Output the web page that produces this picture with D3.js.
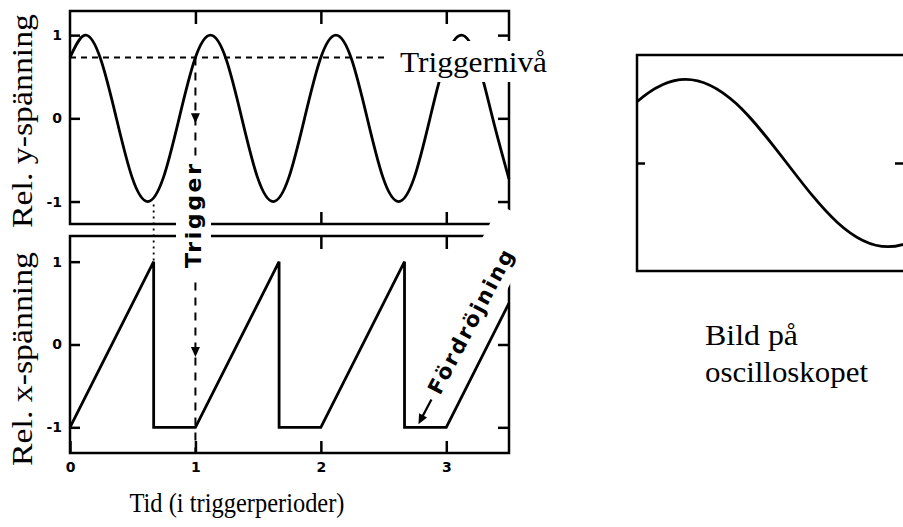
<!DOCTYPE html>
<html>
<head>
<meta charset="utf-8">
<script src="https://cdn.jsdelivr.net/npm/d3@7"></script>
<style>
  body { margin: 0; background: #fff; }
  svg { display: block; }
</style>
</head>
<body>
<svg id="chart" width="903" height="527"></svg>
<script>

// tick values
const timeTicks = [0, 1, 2, 3];
const voltTicks = [-1, 0, 1];

// y-signal (sine)
const ySignalTime  = [0, 0.12, 0.245, 0.37, 0.495, 0.62, 0.745, 0.87, 0.995,
                      1.12, 1.245, 1.37, 1.495, 1.62, 1.745, 1.87, 1.995,
                      2.12, 2.245, 2.37, 2.495, 2.62, 2.745, 2.87, 2.995,
                      3.12, 3.245, 3.37, 3.5];
const ySignalValue = [0.73, 1, 0.71, 0, -0.71, -1, -0.71, 0, 0.71,
                      1, 0.71, 0, -0.71, -1, -0.71, 0, 0.71,
                      1, 0.71, 0, -0.71, -1, -0.71, 0, 0.71,
                      1, 0.71, 0, -0.73];

// x-sweep (sawtooth with hold-off)
const xSweepTime  = [0, 0.667, 0.667, 1, 1.667, 1.667, 2, 2.667, 2.667, 3, 3.5];
const xSweepValue = [-1, 1, -1, -1, 1, -1, -1, 1, -1, -1, 0.5];

const triggerLevel = 0.73;
const triggerTime = 1;
const sweepEnd = 0.667;          // first sweep reaches +1 here
const screenWindow = [1, 1.667]; // part of the signal shown on the screen

const yTitleTop = "Rel. y-spänning";
const yTitleBottom = "Rel. x-spänning";
const xTitle = "Tid (i triggerperioder)";
const levelLabel = "Triggernivå";
const triggerLabel = "Trigger";
const delayLabel = "Fördröjning";
const screenLabel = ["Bild på", "oscilloskopet"];


const ySignal = ySignalTime.map(function(t, i){ return {t: t, v: ySignalValue[i]}; });
const xSweep = xSweepTime.map(function(t, i){ return {t: t, v: xSweepValue[i]}; });

const svg = d3.select('#chart');
const serif = "'Liberation Serif', 'Times New Roman', serif";
const sans = "'DejaVu Sans', sans-serif";

let xTime = d3.scaleLinear().domain([0, 3.5]).range([70, 509]);
let yTop = d3.scaleLinear().domain([-1.27, 1.29]).range([224, 11]);
let yBot = d3.scaleLinear().domain([-1.31, 1.31]).range([453, 236]);
let xScreen = d3.scaleLinear().domain(screenWindow).range([637, 907]);
let yScreen = d3.scaleLinear().domain([-1.29, 1.29]).range([271, 55]);

const fmt = function(d){ return d < 0 ? '-' + Math.abs(d) : String(d); };

function frame(xs, ys){
    svg.append('rect')
        .attr('x', xs.range()[0]).attr('y', ys.range()[1])
        .attr('width', xs.range()[1] - xs.range()[0])
        .attr('height', ys.range()[0] - ys.range()[1])
        .attr('fill', 'none').attr('stroke', '#000').attr('stroke-width', 2.5);
}

function styleAxis(g){
    g.select('.domain').remove();
    g.selectAll('line').attr('stroke', '#000').attr('stroke-width', 2.5);
    g.selectAll('text')
        .attr('fill', '#000')
        .style('font-family', sans)
        .style('font-weight', 'bold')
        .style('font-size', '14px');
}

function panel(ys, withTimeLabels){
    frame(xTime, ys);
    let x0 = xTime.range()[0], x1 = xTime.range()[1];
    let top = ys.range()[1], bottom = ys.range()[0];

    svg.append('g').attr('transform', `translate(${x0},0)`)
        .call(d3.axisLeft(ys).tickValues(voltTicks).tickSize(-10).tickPadding(8).tickFormat(fmt))
        .call(styleAxis);
    svg.append('g').attr('transform', `translate(${x1},0)`)
        .call(d3.axisRight(ys).tickValues(voltTicks).tickSize(-11).tickFormat(''))
        .call(styleAxis);
    svg.append('g').attr('transform', `translate(0,${top})`)
        .call(d3.axisTop(xTime).tickValues([1, 2, 3]).tickSize(-13).tickFormat(''))
        .call(styleAxis);
    svg.append('g').attr('transform', `translate(0,${bottom})`)
        .call(d3.axisBottom(xTime).tickValues(withTimeLabels ? timeTicks : [1, 2, 3])
              .tickSize(-12).tickPadding(9).tickFormat(withTimeLabels ? fmt : ''))
        .call(styleAxis);
}

panel(yTop, false);
panel(yBot, true);

// signals
let lineTop = d3.line().x(function(d){ return xTime(d.t); }).y(function(d){ return yTop(d.v); }).curve(d3.curveNatural);
let lineBot = d3.line().x(function(d){ return xTime(d.t); }).y(function(d){ return yBot(d.v); });

svg.append('path').datum(ySignal).attr('d', lineTop)
    .attr('fill', 'none').attr('stroke', '#000').attr('stroke-width', 2.8).attr('stroke-linejoin', 'round');
svg.append('path').datum(xSweep).attr('d', lineBot)
    .attr('fill', 'none').attr('stroke', '#000').attr('stroke-width', 2.8).attr('stroke-linejoin', 'miter');

// trigger level
svg.append('line')
    .attr('x1', xTime(0)).attr('x2', 387)
    .attr('y1', yTop(triggerLevel)).attr('y2', yTop(triggerLevel))
    .attr('stroke', '#000').attr('stroke-width', 2).attr('stroke-dasharray', '6,5');

// trigger instant, dashed through both panels
svg.append('line')
    .attr('x1', xTime(triggerTime)).attr('x2', xTime(triggerTime))
    .attr('y1', yTop(triggerLevel)).attr('y2', yBot.range()[0])
    .attr('stroke', '#000').attr('stroke-width', 2).attr('stroke-dasharray', '8,7');

[yTop(0) + 5, yBot(-0.15)].forEach(function(tip){
    let x = xTime(triggerTime);
    svg.append('path')
        .attr('d', `M${x},${tip} L${x - 4.5},${tip - 10} L${x + 4.5},${tip - 10} Z`)
        .attr('fill', '#000');
});

// end of first sweep
svg.append('line')
    .attr('x1', xTime(sweepEnd)).attr('x2', xTime(sweepEnd))
    .attr('y1', yTop(-1) + 3).attr('y2', yBot(1))
    .attr('stroke', '#000').attr('stroke-width', 1.8).attr('stroke-dasharray', '2,4');

// white masks behind labels
svg.append('rect').attr('x', 393).attr('y', 41).attr('width', 163).attr('height', 41).attr('fill', '#fff');
svg.append('rect').attr('x', 176).attr('y', 158).attr('width', 35).attr('height', 123).attr('fill', '#fff');

let delay = svg.append('g').attr('transform', 'translate(440,396) rotate(-62.3)');
delay.append('rect').attr('x', 40).attr('y', -36).attr('width', 157).attr('height', 46).attr('fill', '#fff');
delay.append('text')
    .attr('x', 0).attr('y', 0)
    .attr('textLength', 160).attr('lengthAdjust', 'spacing')
    .style('font-family', sans).style('font-weight', 'bold').style('font-size', '21px')
    .text(delayLabel);
delay.append('line').attr('x1', -7).attr('y1', -6).attr('x2', -27).attr('y2', -6)
    .attr('stroke', '#000').attr('stroke-width', 2.2);
delay.append('path').attr('d', 'M-35,-6 L-25,-10.5 L-25,-1.5 Z').attr('fill', '#000');

// labels
svg.append('text')
    .attr('x', 400).attr('y', 72)
    .attr('textLength', 147).attr('lengthAdjust', 'spacingAndGlyphs')
    .style('font-family', serif).style('font-size', '30px')
    .text(levelLabel);

svg.append('text')
    .attr('transform', 'translate(201,268) rotate(-90)')
    .attr('textLength', 104).attr('lengthAdjust', 'spacing')
    .style('font-family', sans).style('font-weight', 'bold').style('font-size', '22px')
    .text(triggerLabel);

[[yTitleTop, 121], [yTitleBottom, 359]].forEach(function(p){
    svg.append('text')
        .attr('transform', `translate(32,${p[1]}) rotate(-90)`)
        .attr('text-anchor', 'middle')
        .attr('textLength', 214).attr('lengthAdjust', 'spacingAndGlyphs')
        .style('font-family', serif).style('font-size', '29px')
        .text(p[0]);
});

svg.append('text')
    .attr('x', 237).attr('y', 512)
    .attr('text-anchor', 'middle')
    .attr('textLength', 215).attr('lengthAdjust', 'spacingAndGlyphs')
    .style('font-family', serif).style('font-size', '27px')
    .text(xTitle);

// oscilloscope screen
svg.append('clipPath').attr('id', 'screenClip')
    .append('rect')
    .attr('x', xScreen.range()[0]).attr('y', yScreen.range()[1])
    .attr('width', xScreen.range()[1] - xScreen.range()[0])
    .attr('height', yScreen.range()[0] - yScreen.range()[1]);

frame(xScreen, yScreen);
svg.append('g').attr('transform', `translate(${xScreen.range()[0]},0)`)
    .call(d3.axisLeft(yScreen).tickValues([0]).tickSize(-8).tickFormat(''))
    .call(styleAxis);
svg.append('g').attr('transform', `translate(${xScreen.range()[1]},0)`)
    .call(d3.axisRight(yScreen).tickValues([0]).tickSize(-12).tickFormat(''))
    .call(styleAxis);

let lineScreen = d3.line().x(function(d){ return xScreen(d.t); }).y(function(d){ return yScreen(d.v); }).curve(d3.curveNatural);
svg.append('path').datum(ySignal).attr('d', lineScreen)
    .attr('clip-path', 'url(#screenClip)')
    .attr('fill', 'none').attr('stroke', '#000').attr('stroke-width', 2.8);

screenLabel.forEach(function(s, i){
    svg.append('text')
        .attr('x', 705).attr('y', 345 + i * 37)
        .attr('textLength', i === 0 ? 93 : 163).attr('lengthAdjust', 'spacingAndGlyphs')
        .style('font-family', serif).style('font-size', '30px')
        .text(s);
});

</script>
</body>
</html>
